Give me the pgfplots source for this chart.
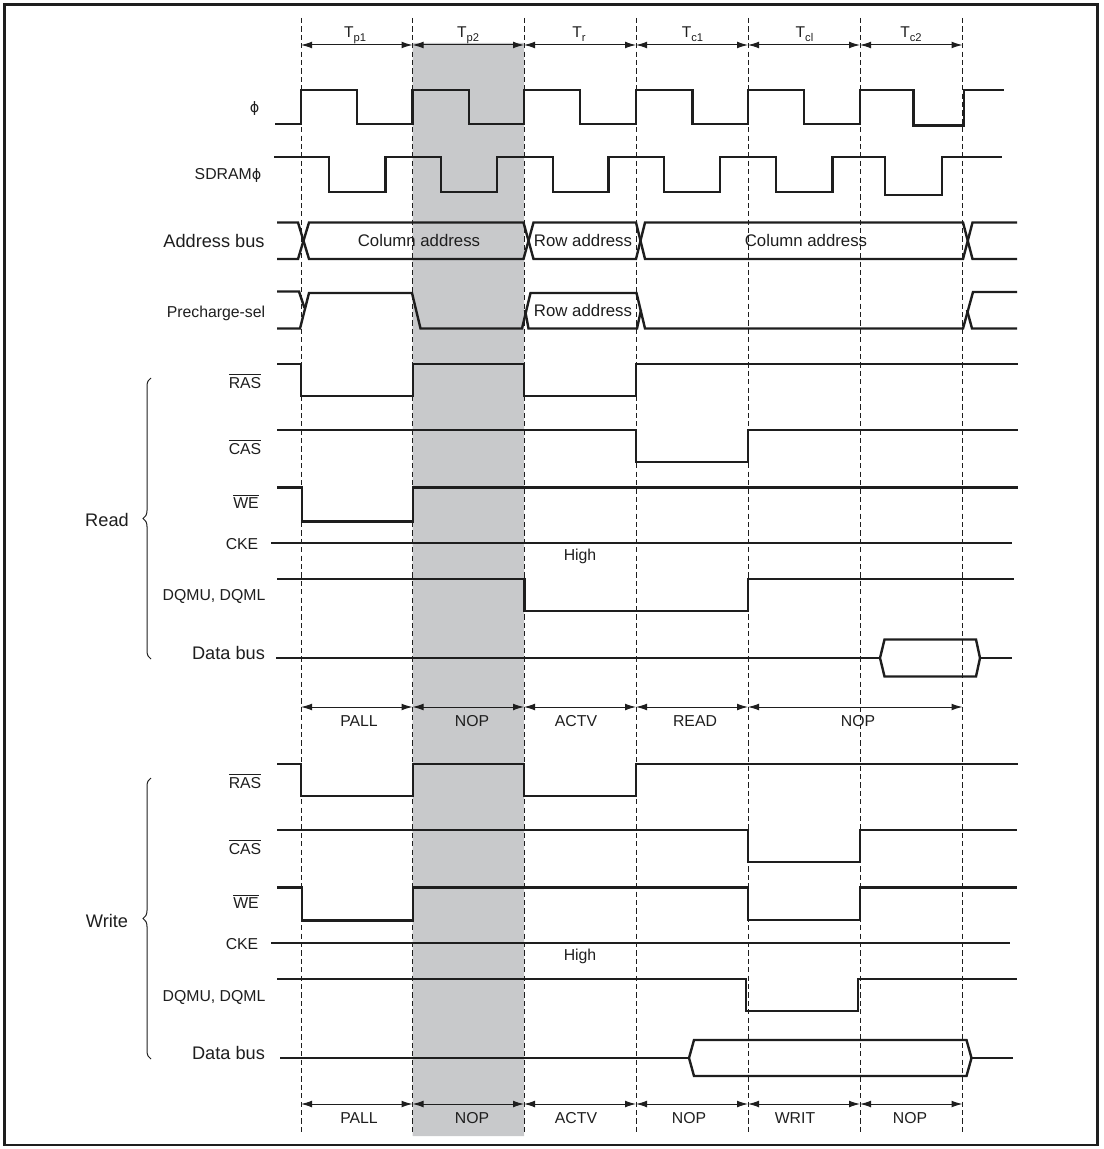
\documentclass[border=0pt]{standalone}
\usepackage{fontspec}
\setmainfont{Liberation Sans}
\newfontfamily\dejavu{DejaVu Sans}
\usepackage{pgfplots}
\pgfplotsset{compat=1.18}
\usetikzlibrary{arrows.meta,decorations.pathreplacing}
\definecolor{shade}{RGB}{200,201,203}
\definecolor{ink}{RGB}{30,30,30}
\newcommand{\Tsub}[1]{T\raisebox{-2.3pt}{\fontsize{5.6pt}{6pt}\selectfont #1}}
\newcommand{\phig}{{\dejavu\fontsize{7.2pt}{9pt}\selectfont ϕ}}
\tikzset{
  sig/.style={ink, line width=1.2pt, line join=miter},
  tdash/.style={ink, line width=0.45pt, dash pattern=on 2.6pt off 1.6pt},
  dimarrow/.style={ink, line width=0.5pt, >={Latex[length=5.5pt,width=3.4pt]}, <->},
  lbl/.style={font=\fontsize{7.9pt}{9pt}\selectfont, text=ink, inner sep=0pt, text height=5.66pt, text depth=0pt},
  biglbl/.style={font=\fontsize{9.1pt}{11pt}\selectfont, text=ink, inner sep=0pt, text height=6.5pt, text depth=0pt},
  boxlbl/.style={font=\fontsize{8.4pt}{10pt}\selectfont, text=ink, inner sep=0pt, text height=6.0pt, text depth=0pt},
  tlbl/.style={font=\fontsize{7.8pt}{9pt}\selectfont, text=ink, inner sep=0pt, anchor=base},
}
\begin{document}
\begin{tikzpicture}
\begin{axis}[scale only axis, width=551.5pt, height=574.5pt,
  xmin=0, xmax=1103, ymin=0, ymax=1149, y dir=reverse,
  hide axis, clip=false]
\path (axis cs:0,0) rectangle (axis cs:1103,1149);
% shaded cycle
\addplot[fill=shade, draw=none] coordinates {(412.5,43)(524,43)(524,1136)(412.5,1136)(412.5,43)};
% dashed cycle boundaries
\addplot[tdash] coordinates {(301,18)(301,1133)};
\addplot[tdash] coordinates {(412.5,18)(412.5,1133)};
\addplot[tdash] coordinates {(524,18)(524,1133)};
\addplot[tdash] coordinates {(636,18)(636,1133)};
\addplot[tdash] coordinates {(748,18)(748,1133)};
\addplot[tdash] coordinates {(860,18)(860,1133)};
\addplot[tdash] coordinates {(962.5,18)(962.5,1133)};
% frame
\addplot[ink, line width=1.35pt, line join=miter] coordinates {(4.5,4.5)(1097.5,4.5)(1097.5,1145)(4.5,1145)(4.5,4.5)(1097.5,4.5)};
% phi
\addplot[sig] coordinates {(275,124)(301,124)(301,90)(357,90)(357,124)(412.5,124)(412.5,90)(469,90)(469,124)(524,124)(524,90)(580,90)(580,124)(636,124)(636,90)(692.5,90)(692.5,124)(748,124)(748,90)(804,90)(804,124)(860,124)(860,90)(913.5,90)(913.5,125.5)(964,125.5)(964,90)(1004,90)};
% SDRAM phi
\addplot[sig] coordinates {(274,157)(329,157)(329,192)(385.5,192)(385.5,157)(441,157)(441,192)(497,192)(497,157)(553,157)(553,192)(608.5,192)(608.5,157)(664,157)(664,192)(720,192)(720,157)(776,157)(776,192)(832.5,192)(832.5,157)(885,157)(885,195)(942,195)(942,157)(1002,157)};
% Address bus
\addplot[sig] coordinates {(277,222.5)(298,222.5)(309,259)(523.5,259)(533.5,222.5)(636,222.5)(645,259)(963,259)(972.5,222.5)(1017,222.5)};
\addplot[sig] coordinates {(277,259)(298,259)(309,222.5)(523.5,222.5)(533.5,259)(636,259)(645,222.5)(963,222.5)(972.5,259)(1017,259)};
% Precharge-sel
\addplot[sig] coordinates {(277,291.5)(299,291.5)(304.5,308)};
\addplot[sig] coordinates {(277,328.5)(300,328.5)(309,293)(412,293)(420.5,328.5)(522,328.5)(530.5,293)(636.5,293)(645,328.5)(963,328.5)(973,292)(1017,292)};
\addplot[sig] coordinates {(525,310)(528.5,328.5)(637,328.5)(641,310)};
\addplot[sig] coordinates {(967,310)(972,328.5)(1017,328.5)};
% ---- Read ----
\addplot[sig] coordinates {(277,364)(301,364)(301,396)(413,396)(413,364)(524,364)(524,396)(636,396)(636,364)(1018,364)};
\addplot[sig] coordinates {(277,430)(636,430)(636,462)(748,462)(748,430)(1018,430)};
\addplot[sig] coordinates {(277,487.5)(302,487.5)(302,521.5)(413,521.5)(413,487.5)(1018,487.5)};
\addplot[sig] coordinates {(271,543)(1012,543)};
\addplot[sig] coordinates {(277,579)(524.5,579)(524.5,611)(748,611)(748,579)(1014,579)};
\addplot[sig] coordinates {(276,658)(880,658)};
\addplot[sig] coordinates {(880,658)(884.5,639.5)(976,639.5)(980,658)(976,676.5)(884.5,676.5)(880,658)(884.5,639.5)};
\addplot[sig] coordinates {(980,658)(1012,658)};
% ---- Write ----
\addplot[sig] coordinates {(277,764)(301,764)(301,796)(413,796)(413,764)(524,764)(524,796)(636,796)(636,764)(1018,764)};
\addplot[sig] coordinates {(277,830)(748,830)(748,862)(860,862)(860,830)(1017,830)};
\addplot[sig] coordinates {(277,887.5)(302,887.5)(302,920.5)(413,920.5)(413,887.5)(748,887.5)(748,920)(860,920)(860,887.5)(1017,887.5)};
\addplot[sig] coordinates {(271,943)(1010,943)};
\addplot[sig] coordinates {(277,979)(746,979)(746,1011)(858,1011)(858,979)(1017,979)};
\addplot[sig] coordinates {(280,1058)(689,1058)};
\addplot[sig] coordinates {(689,1058)(694,1040)(966.5,1040)(971.5,1058)(966.5,1076)(694,1076)(689,1058)(694,1040)};
\addplot[sig] coordinates {(971.5,1058)(1013,1058)};
% dimension arrows: top
\addplot[dimarrow] coordinates {(301,45)(412.5,45)};
\addplot[dimarrow] coordinates {(412.5,45)(524,45)};
\addplot[dimarrow] coordinates {(524,45)(636,45)};
\addplot[dimarrow] coordinates {(636,45)(748,45)};
\addplot[dimarrow] coordinates {(748,45)(860,45)};
\addplot[dimarrow] coordinates {(860,45)(962.5,45)};
% read commands
\addplot[dimarrow] coordinates {(301,707)(412.5,707)};
\addplot[dimarrow] coordinates {(412.5,707)(524,707)};
\addplot[dimarrow] coordinates {(524,707)(636,707)};
\addplot[dimarrow] coordinates {(636,707)(748,707)};
\addplot[dimarrow] coordinates {(748,707)(962.5,707)};
% write commands
\addplot[dimarrow] coordinates {(301,1104)(412.5,1104)};
\addplot[dimarrow] coordinates {(412.5,1104)(524,1104)};
\addplot[dimarrow] coordinates {(524,1104)(636,1104)};
\addplot[dimarrow] coordinates {(636,1104)(748,1104)};
\addplot[dimarrow] coordinates {(748,1104)(860,1104)};
\addplot[dimarrow] coordinates {(860,1104)(962.5,1104)};
% braces
\draw[ink, line width=0.5pt, decorate, decoration={brace, amplitude=4pt}] (axis cs:151,659) -- (axis cs:151,378);
\draw[ink, line width=0.5pt, decorate, decoration={brace, amplitude=4pt}] (axis cs:151,1059) -- (axis cs:151,778);
% cycle labels
\node[tlbl] at (axis cs:355,37.3) {\Tsub{p1}};
\node[tlbl] at (axis cs:468,37.3) {\Tsub{p2}};
\node[tlbl] at (axis cs:579,37.3) {\Tsub{r}};
\node[tlbl] at (axis cs:692.5,37.3) {\Tsub{c1}};
\node[tlbl] at (axis cs:804.5,37.3) {\Tsub{cl}};
\node[tlbl] at (axis cs:911,37.3) {\Tsub{c2}};
% signal names
\node[lbl] at (axis cs:254.5,107) {\phig};
\node[lbl] at (axis cs:228,174) {SDRAM\phig};
\node[biglbl] at (axis cs:214,241) {Address bus};
\node[lbl] at (axis cs:216,312) {Precharge-sel};
\node[boxlbl] at (axis cs:419,241) {Column address};
\node[boxlbl] at (axis cs:583,241) {Row address};
\node[boxlbl] at (axis cs:806,241) {Column address};
\node[boxlbl] at (axis cs:583,311) {Row address};
% read labels
\node[lbl] at (axis cs:245,383) {$\overline{\mbox{RAS}}$};
\node[lbl] at (axis cs:245,449) {$\overline{\mbox{CAS}}$};
\node[lbl] at (axis cs:246,503) {$\overline{\mbox{WE}}$};
\node[lbl] at (axis cs:242,544) {CKE};
\node[lbl] at (axis cs:214,595) {DQMU, DQML};
\node[biglbl] at (axis cs:228.5,653) {Data bus};
\node[biglbl] at (axis cs:107,520) {Read};
\node[lbl] at (axis cs:580,555) {High};
\node[lbl] at (axis cs:359,720.5) {PALL};
\node[lbl] at (axis cs:472,720.5) {NOP};
\node[lbl] at (axis cs:576,720.5) {ACTV};
\node[lbl] at (axis cs:695,720.5) {READ};
\node[lbl] at (axis cs:858,720.5) {NOP};
% write labels
\node[lbl] at (axis cs:245,783) {$\overline{\mbox{RAS}}$};
\node[lbl] at (axis cs:245,849) {$\overline{\mbox{CAS}}$};
\node[lbl] at (axis cs:246,903) {$\overline{\mbox{WE}}$};
\node[lbl] at (axis cs:242,944) {CKE};
\node[lbl] at (axis cs:214,996) {DQMU, DQML};
\node[biglbl] at (axis cs:228.5,1053) {Data bus};
\node[biglbl] at (axis cs:107,921) {Write};
\node[lbl] at (axis cs:580,955) {High};
\node[lbl] at (axis cs:359,1118) {PALL};
\node[lbl] at (axis cs:472,1118) {NOP};
\node[lbl] at (axis cs:576,1118) {ACTV};
\node[lbl] at (axis cs:689,1118) {NOP};
\node[lbl] at (axis cs:795,1118) {WRIT};
\node[lbl] at (axis cs:910,1118) {NOP};
\end{axis}
\end{tikzpicture}
\end{document}
